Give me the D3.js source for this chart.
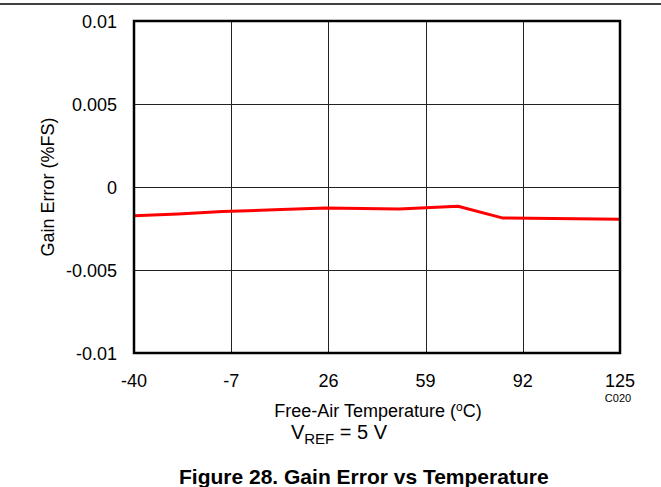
<!DOCTYPE html>
<html><head><meta charset="utf-8">
<script src="https://cdn.jsdelivr.net/npm/d3@7"></script>
<style>
html,body{margin:0;padding:0;background:#fff;}
svg{display:block;font-family:"Liberation Sans",Arial,sans-serif;}
</style></head>
<body>
<svg id="c" width="661" height="487"></svg>
<script>
const temps = [-40, -25, -10, 10, 25, 50, 70, 85, 125];
const gainError = [-0.00173, -0.00162, -0.00148, -0.00136, -0.00127, -0.00133, -0.00116, -0.00186, -0.00195];
const xTicks = [-40, -7, 26, 59, 92, 125];
const yTicks = [-0.01, -0.005, 0, 0.005, 0.01];
const yTickLabels = ["-0.01", "-0.005", "0", "0.005", "0.01"];

const svg = d3.select("#c");
const L = 134, R = 620, T = 21, B = 353;
const x = d3.scaleLinear().domain([-40, 125]).range([L, R]);
const y = d3.scaleLinear().domain([-0.01, 0.01]).range([B, T]);

// top rule
svg.append("line").attr("x1", 0).attr("x2", 661).attr("y1", 4).attr("y2", 4)
  .attr("stroke", "#000").attr("stroke-width", 1.5);

// grid
const g = svg.append("g");
g.selectAll(".vx").data(xTicks.slice(1, -1)).join("line")
  .attr("x1", d => Math.round(x(d)) + 0.5).attr("x2", d => Math.round(x(d)) + 0.5)
  .attr("y1", T).attr("y2", B).attr("stroke", "#222").attr("stroke-width", 1);
g.selectAll(".hy").data(yTicks.slice(1, -1)).join("line")
  .attr("y1", d => Math.round(y(d)) + 0.5).attr("y2", d => Math.round(y(d)) + 0.5)
  .attr("x1", L).attr("x2", R).attr("stroke", "#222").attr("stroke-width", 1);

// data line
const line = d3.line().x((d, i) => x(temps[i])).y(d => y(d));
svg.append("path").datum(gainError).attr("d", line)
  .attr("fill", "none").attr("stroke", "#ff0000").attr("stroke-width", 3)
  .attr("stroke-linejoin", "round");

// frame
svg.append("rect").attr("x", L).attr("y", T).attr("width", R - L).attr("height", B - T)
  .attr("fill", "none").attr("stroke", "#000").attr("stroke-width", 2.5);

// y tick labels
svg.selectAll(".yl").data(yTicks).join("text")
  .attr("x", 117).attr("y", d => y(d) + 6.5).attr("text-anchor", "end")
  .attr("font-size", 18).attr("fill", "#000")
  .text((d, i) => yTickLabels[i]);

// x tick labels
svg.selectAll(".xl").data(xTicks).join("text")
  .attr("x", d => x(d)).attr("y", 386.5).attr("text-anchor", "middle")
  .attr("font-size", 18).attr("fill", "#000")
  .text(d => d);

// axis titles
svg.append("text").attr("x", 378).attr("y", 417).attr("text-anchor", "middle")
  .attr("font-size", 18).attr("fill", "#000")
  .html('Free-Air Temperature (<tspan dy="-6" font-size="12">o</tspan><tspan dy="6">C)</tspan>');
svg.append("text").attr("transform", "translate(54,187) rotate(-90)").attr("text-anchor", "middle")
  .attr("font-size", 18).attr("fill", "#000").text("Gain Error (%FS)");
svg.append("text").attr("x", 618).attr("y", 402).attr("text-anchor", "middle")
  .attr("font-size", 11).attr("fill", "#000").text("C020");

// condition
svg.append("text").attr("x", 339).attr("y", 439).attr("text-anchor", "middle")
  .attr("font-size", 20).attr("fill", "#000")
  .html('V<tspan dy="5" font-size="15">REF</tspan><tspan dy="-5"> = 5 V</tspan>');

// caption
svg.append("text").attr("x", 179).attr("y", 484).attr("text-anchor", "start")
  .attr("font-size", 21).attr("font-weight", "bold").attr("fill", "#000")
  .text("Figure 28. Gain Error vs Temperature");
</script>
</body></html>
